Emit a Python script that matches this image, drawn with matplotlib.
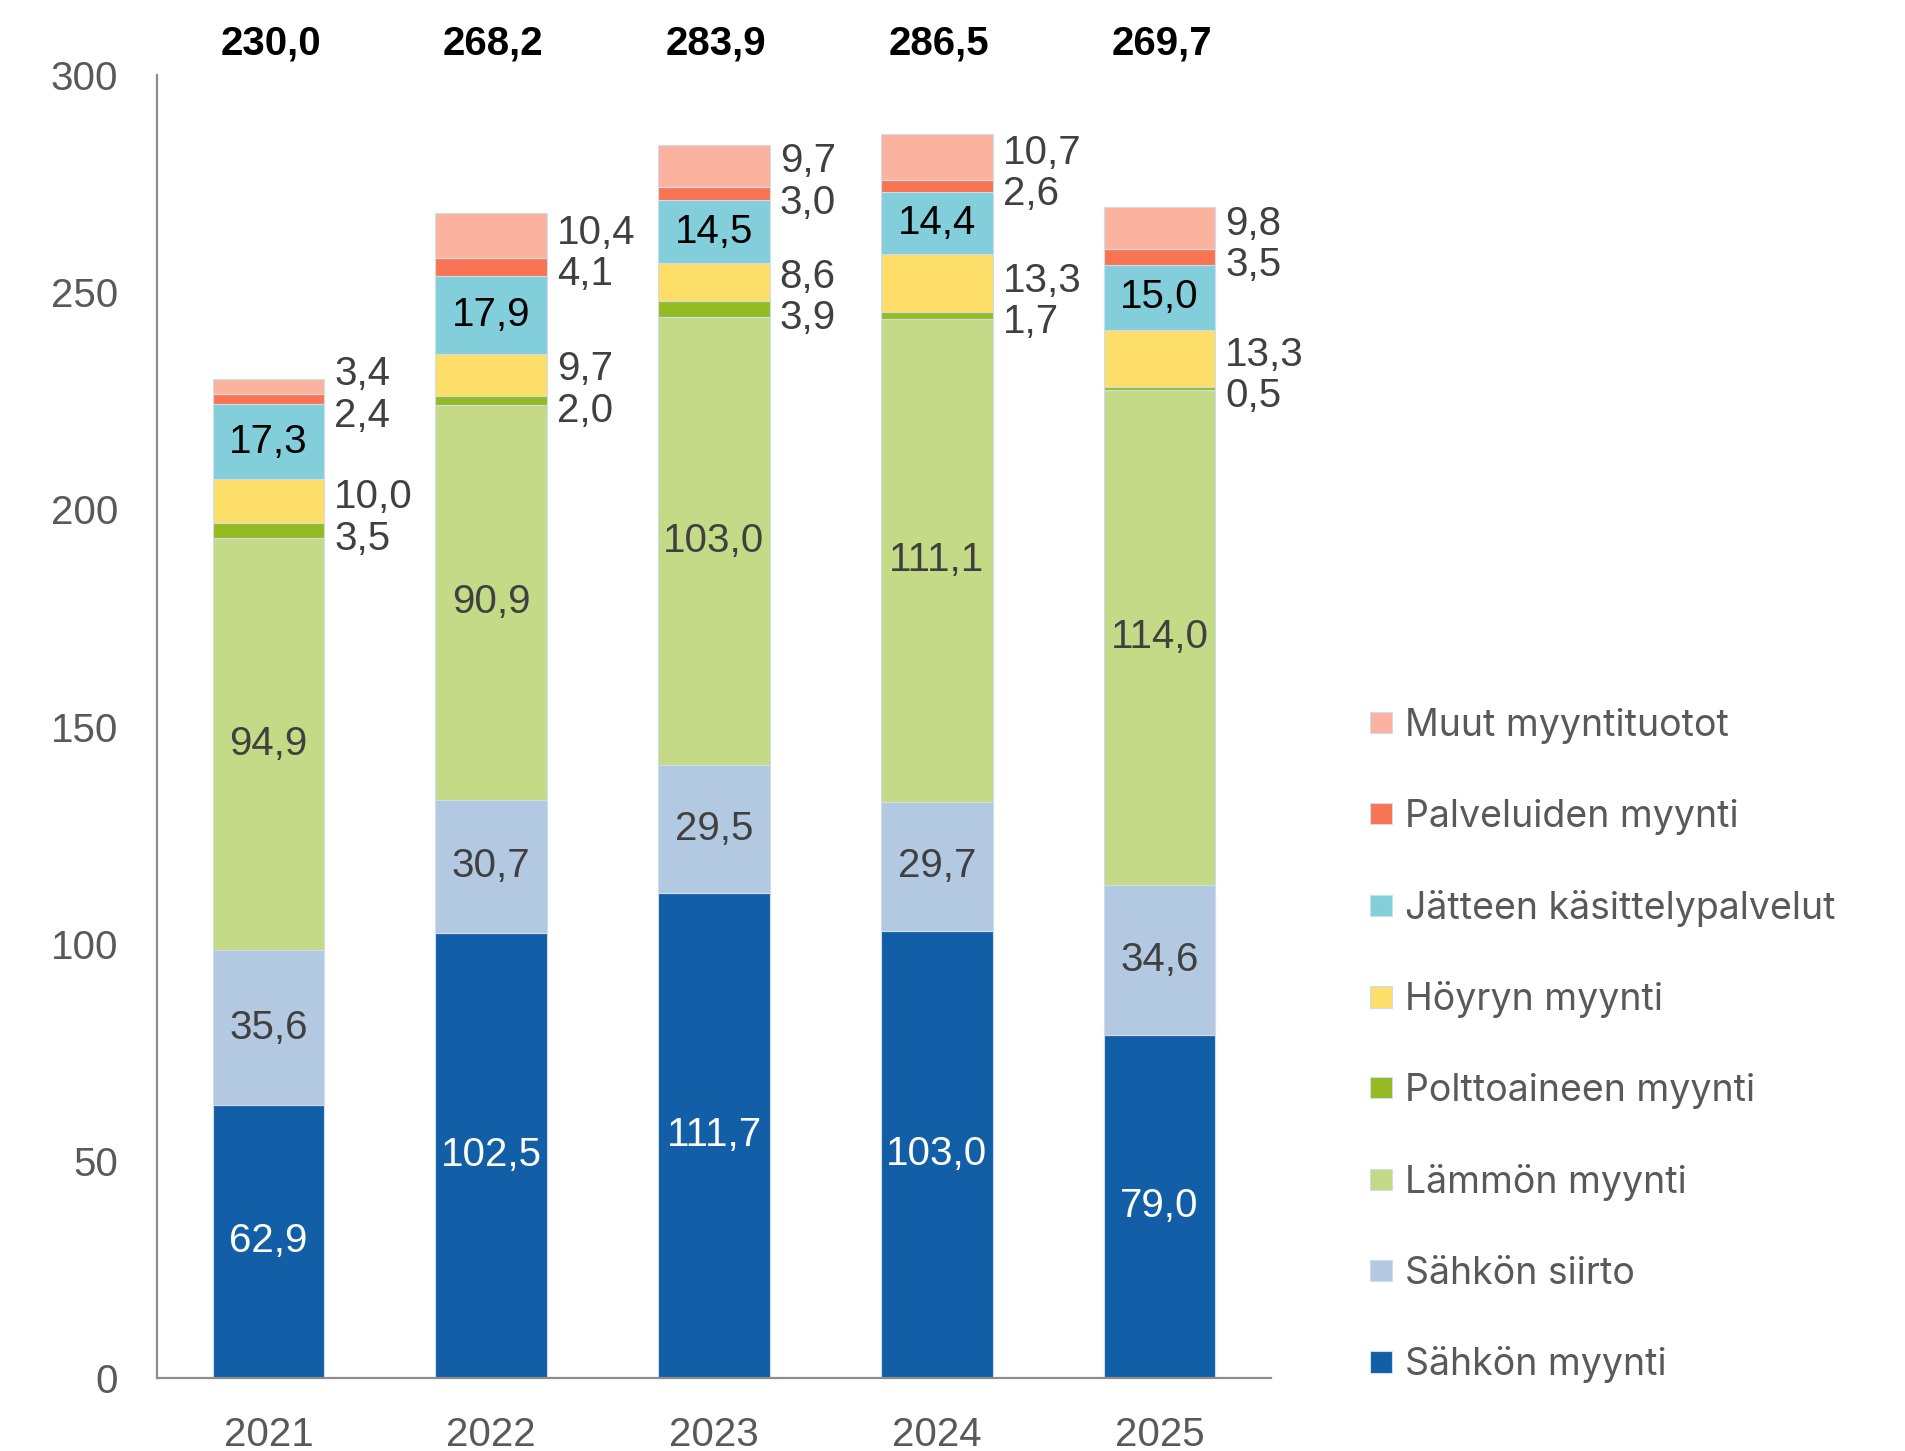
import numpy as np
import matplotlib.pyplot as plt

# Data (bottom to top)
years = ['2021', '2022', '2023', '2024', '2025']
sahkon_myynti = [62.9, 102.5, 111.7, 103.0, 79.0]
sahkon_siirto = [35.6, 30.7, 29.5, 29.7, 34.6]
lammon_myynti = [94.9, 90.9, 103.0, 111.1, 114.0]
polttoaine = [3.5, 2.0, 3.9, 1.7, 0.5]
hoyry = [10.0, 9.7, 8.6, 13.3, 13.3]
jate = [17.3, 17.9, 14.5, 14.4, 15.0]
palvelut = [2.4, 4.1, 3.0, 2.6, 3.5]
muut = [3.4, 10.4, 9.7, 10.7, 9.8]
totals = [230.0, 268.2, 283.9, 286.5, 269.7]

names = ['Sähkön myynti', 'Sähkön siirto', 'Lämmön myynti', 'Polttoaineen myynti',
         'Höyryn myynti', 'Jätteen käsittelypalvelut', 'Palveluiden myynti',
         'Muut myyntituotot']
values = [sahkon_myynti, sahkon_siirto, lammon_myynti, polttoaine, hoyry, jate, palvelut, muut]
colors = ['#125FA7', '#B3C9E1', '#C5DA86', '#95BB22', '#FDDE68', '#82CFDB', '#F97452', '#FBB3A0']
# how each label is drawn: 'in' = centered inside, 'out' = right of bar
label_mode = ['in', 'in', 'in', 'out', 'out', 'in', 'out', 'out']
label_color = ['white', '#404040', '#404040', '#404040', '#404040', 'black', '#404040', '#404040']

num_font = 'Liberation Sans'
fs = 29


def fmt(v):
    return f'{v:.1f}'.replace('.', ',')


fig = plt.figure(figsize=(19.05, 14.51), dpi=100)
ax = fig.add_axes([0.0824, 0.0503, 0.5848, 0.8979])

x = np.arange(len(years))
w = 0.5
bottom = np.zeros(len(years))
centers = []
handles = []
for vals, col, name in zip(values, colors, names):
    vals = np.array(vals)
    b = ax.bar(x, vals, w, bottom=bottom, color=col, edgecolor='#cfdcec', linewidth=0.8, label=name)
    handles.append(b)
    centers.append(bottom + vals / 2)
    bottom = bottom + vals

# label positions, push apart the small outside labels
gap = 9.5
label_y = [c.copy() for c in centers]
for lo, hi in [(3, 4), (6, 7)]:
    for i in range(len(years)):
        cl, cu = label_y[lo][i], label_y[hi][i]
        if cu - cl < gap:
            mid = (cu + cl) / 2 - 0.5
            label_y[lo][i] = mid - gap / 2
            label_y[hi][i] = mid + gap / 2

for k, vals in enumerate(values):
    for i, v in enumerate(vals):
        if label_mode[k] == 'in':
            ax.text(x[i], label_y[k][i], fmt(v), ha='center', va='center',
                    color=label_color[k], fontsize=fs, family=num_font)
        else:
            ax.text(x[i] + w / 2 + 0.045, label_y[k][i], fmt(v), ha='left', va='center',
                    color=label_color[k], fontsize=fs, family=num_font)

for i, t in enumerate(totals):
    ax.text(x[i] + 0.01, 307.3, fmt(t), ha='center', va='center', fontsize=fs,
            fontweight='bold', family=num_font, color='black', clip_on=False)

ax.set_xlim(-0.5, 4.5)
ax.set_ylim(0, 300)
ax.set_yticks([0, 50, 100, 150, 200, 250, 300])
ax.set_xticks(x)
ax.set_xticklabels(years)
for sp in ['top', 'right']:
    ax.spines[sp].set_visible(False)
for sp in ['left', 'bottom']:
    ax.spines[sp].set_color('#8c8c8c')
    ax.spines[sp].set_linewidth(1.6)
ax.tick_params(axis='both', length=0, labelsize=fs, labelcolor='#595959')
ax.tick_params(axis='y', pad=28)
ax.tick_params(axis='x', pad=27)
for lbl in ax.get_xticklabels() + ax.get_yticklabels():
    lbl.set_family(num_font)

leg = fig.legend(handles[::-1], names[::-1], loc='upper left', bbox_to_anchor=(0.719, 0.512),
                 frameon=False, handlelength=0.6, handleheight=0.5,
                 handletextpad=0.33, labelspacing=1.46, borderpad=0, borderaxespad=0,
                 prop={'family': 'Inter', 'size': 27})
for t in leg.get_texts():
    t.set_color('#595959')

fig.savefig('out.png', dpi=100)
